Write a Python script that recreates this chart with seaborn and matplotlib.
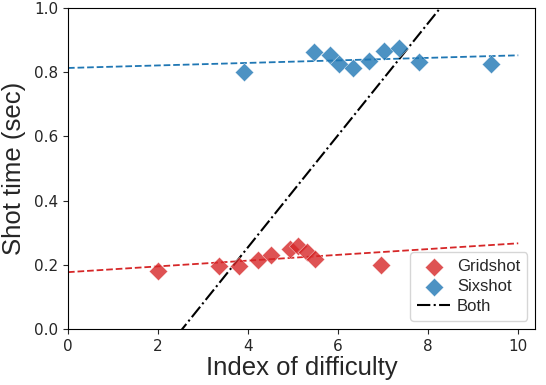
import numpy as np
import pandas as pd
import matplotlib
matplotlib.use("Agg")
import matplotlib.pyplot as plt
import seaborn as sns

# index of difficulty / shot time
grid_id = [2.0, 3.35, 3.8, 4.22, 4.52, 4.92, 5.1, 5.3, 5.49, 6.96]
grid_time = [0.18, 0.196, 0.196, 0.215, 0.229, 0.249, 0.257, 0.24, 0.218, 0.2]
six_id = [3.9, 5.47, 5.81, 6.01, 6.34, 6.69, 7.01, 7.36, 7.79, 9.39]
six_time = [0.80, 0.862, 0.854, 0.825, 0.812, 0.835, 0.867, 0.874, 0.833, 0.826]

# pooled model for both tasks (intercept, slope)
both_fit = [-0.443, 0.1745]

x_ticks = [0, 2, 4, 6, 8, 10]
y_ticks = [0.0, 0.2, 0.4, 0.6, 0.8, 1.0]

red = "#d62728"
blue = "#1f77b4"


def main():
    sns.set_style("ticks")
    plt.rcParams["font.family"] = ["DejaVu Sans"]

    fig = plt.figure(figsize=(5.46, 3.85), dpi=100)
    ax = fig.add_axes([0.1245, 0.1455, 0.856, 0.834])

    xs = np.linspace(0, 10, 200)

    sns.scatterplot(x=grid_id, y=grid_time, marker="D", s=88, color=red, alpha=0.8,
                    edgecolor="white", linewidth=0.3, label="Gridshot", ax=ax, zorder=3)
    sns.scatterplot(x=six_id, y=six_time, marker="D", s=88, color=blue, alpha=0.8,
                    edgecolor="white", linewidth=0.3, label="Sixshot", ax=ax, zorder=3)

    # linear fits per task
    k, b = np.polyfit(grid_id, grid_time, 1)
    ax.plot(xs, k * xs + b, "--", color=red, lw=1.3, label="_nolegend_")
    k, b = np.polyfit(six_id, six_time, 1)
    ax.plot(xs, k * xs + b, "--", color=blue, lw=1.3, label="_nolegend_")
    ax.plot(xs, both_fit[0] + both_fit[1] * xs, "-.", color="black", lw=1.5, label="Both")

    ax.set_xlim(0, 10.38)
    ax.set_ylim(0, 1.0)
    ax.set_xticks(x_ticks)
    ax.set_yticks(y_ticks)
    ax.set_yticklabels([f"{v:.1f}" for v in y_ticks])
    ax.tick_params(labelsize=11)
    for s in ax.spines.values():
        s.set_visible(True)
        s.set_color("black")

    ax.set_xlabel("Index of difficulty", fontsize=18.5, family=["Liberation Sans"], labelpad=2)
    ax.set_ylabel("Shot time (sec)", fontsize=18.5, family=["Liberation Sans"], labelpad=6)

    ax.legend(loc="lower right", prop={"family": ["Liberation Sans"], "size": 12},
              handletextpad=0.4, borderpad=0.4, labelspacing=0.3)

    fig.savefig("out.png", dpi=100)


if __name__ == "__main__":
    main()
